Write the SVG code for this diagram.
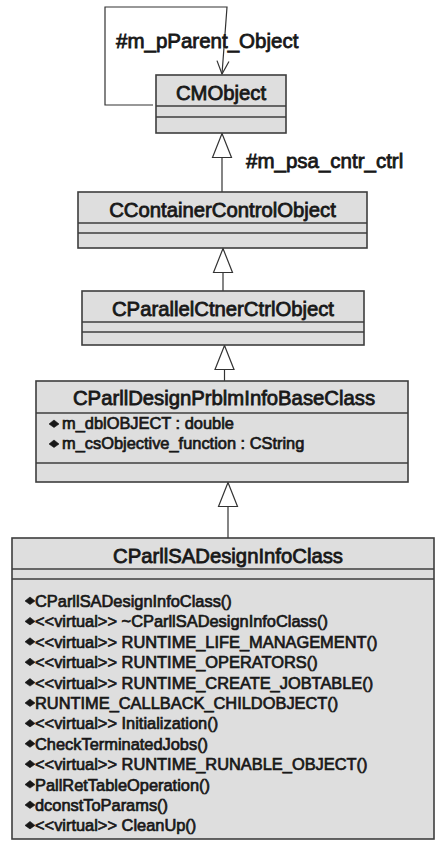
<svg xmlns="http://www.w3.org/2000/svg" width="447" height="843" viewBox="0 0 447 843">
  <style>
    .box { fill: #dedede; stroke: #3e3e3e; stroke-width: 1.6; }
    .div { stroke: #3e3e3e; stroke-width: 1.6; }
    .edge { fill: none; stroke: #333333; stroke-width: 1.2; }
    text { font-family: "Liberation Sans", Arial, sans-serif; fill: #181818; stroke: #181818; stroke-width: 0.8; }
    .title { font-size: 20.3px; text-anchor: middle; }
    .label { font-size: 20.5px; }
    .member { font-size: 16.4px; stroke-width: 0.7; }
    .icon { fill: #181818; stroke: #181818; stroke-width: 0.6; }
  </style>
  <defs>
    <!-- hollow generalization triangle -->
    <marker id="gen" markerUnits="userSpaceOnUse" markerWidth="26" markerHeight="22" viewBox="-1 -1 26 22" refX="24" refY="10" orient="auto">
      <path d="M0,0.5 L24,10 L0,19.5 Z" fill="#ffffff" stroke="#333333" stroke-width="1.2"/>
    </marker>
    <!-- open navigability arrowhead -->
    <marker id="nav" markerUnits="userSpaceOnUse" markerWidth="16" markerHeight="14" viewBox="-1 -1 16 14" refX="13" refY="6" orient="auto">
      <path d="M0,0 L13,6 L0,12" fill="none" stroke="#333333" stroke-width="1.2"/>
    </marker>
    <!-- operation / attribute visibility icon -->
    <path id="op" d="M-5,0 L0,-4 L5,0 L0,3.5 Z" class="icon"/>
  </defs>

  <!-- connectors -->
  <g id="connectors">
    <path class="edge" d="M153,105 L105,105 L105,7 L227,7 L222,74" marker-end="url(#nav)"/>
    <line class="edge" x1="222" y1="192" x2="222" y2="133.5" marker-end="url(#gen)"/>
    <line class="edge" x1="223" y1="291" x2="223" y2="248.5" marker-end="url(#gen)"/>
    <line class="edge" x1="224.5" y1="381" x2="224.5" y2="345.5" marker-end="url(#gen)"/>
    <line class="edge" x1="228" y1="538" x2="228" y2="482.5" marker-end="url(#gen)"/>
    <text class="label" x="116" y="48">#m_pParent_Object</text>
    <text class="label" x="246" y="168">#m_psa_cntr_ctrl</text>
  </g>

  <g id="CMObject">
    <rect class="box" x="156" y="75" width="130" height="58"/>
    <line class="div" x1="156" y1="106" x2="286" y2="106"/>
    <line class="div" x1="156" y1="117" x2="286" y2="117"/>
    <text class="title" x="221" y="100">CMObject</text>
  </g>

  <g id="CContainerControlObject">
    <rect class="box" x="78" y="192" width="289" height="56"/>
    <line class="div" x1="78" y1="223" x2="367" y2="223"/>
    <line class="div" x1="78" y1="233" x2="367" y2="233"/>
    <text class="title" x="222.5" y="217">CContainerControlObject</text>
  </g>

  <g id="CParallelCtnerCtrlObject">
    <rect class="box" x="82" y="291" width="282" height="54"/>
    <line class="div" x1="82" y1="322" x2="364" y2="322"/>
    <line class="div" x1="82" y1="332" x2="364" y2="332"/>
    <text class="title" x="223" y="316">CParallelCtnerCtrlObject</text>
  </g>

  <g id="CParllDesignPrblmInfoBaseClass">
    <rect class="box" x="36" y="381" width="372" height="101"/>
    <line class="div" x1="36" y1="413" x2="408" y2="413"/>
    <line class="div" x1="36" y1="463" x2="408" y2="463"/>
    <text class="title" x="224" y="405">CParllDesignPrblmInfoBaseClass</text>
    <use href="#op" x="54" y="424"/>
    <text class="member" x="62" y="429">m_dblOBJECT : double</text>
    <use href="#op" x="54" y="444"/>
    <text class="member" x="62" y="449">m_csObjective_function : CString</text>
  </g>

  <g id="CParllSADesignInfoClass">
    <rect class="box" x="12" y="538" width="422" height="301"/>
    <line class="div" x1="12" y1="569" x2="434" y2="569"/>
    <line class="div" x1="12" y1="579" x2="434" y2="579"/>
    <text class="title" x="228" y="563">CParllSADesignInfoClass</text>
    <use href="#op" x="30" y="601"/>
    <text class="member" x="35" y="607">CParllSADesignInfoClass()</text>
    <use href="#op" x="30" y="621.4"/>
    <text class="member" x="35" y="627.4">&lt;&lt;virtual&gt;&gt; ~CParllSADesignInfoClass()</text>
    <use href="#op" x="30" y="641.8"/>
    <text class="member" x="35" y="647.8">&lt;&lt;virtual&gt;&gt; RUNTIME_LIFE_MANAGEMENT()</text>
    <use href="#op" x="30" y="662.2"/>
    <text class="member" x="35" y="668.2">&lt;&lt;virtual&gt;&gt; RUNTIME_OPERATORS()</text>
    <use href="#op" x="30" y="682.6"/>
    <text class="member" x="35" y="688.6">&lt;&lt;virtual&gt;&gt; RUNTIME_CREATE_JOBTABLE()</text>
    <use href="#op" x="30" y="703"/>
    <text class="member" x="35" y="709">RUNTIME_CALLBACK_CHILDOBJECT()</text>
    <use href="#op" x="30" y="723.4"/>
    <text class="member" x="35" y="729.4">&lt;&lt;virtual&gt;&gt; Initialization()</text>
    <use href="#op" x="30" y="743.8"/>
    <text class="member" x="35" y="749.8">CheckTerminatedJobs()</text>
    <use href="#op" x="30" y="764.2"/>
    <text class="member" x="35" y="770.2">&lt;&lt;virtual&gt;&gt; RUNTIME_RUNABLE_OBJECT()</text>
    <use href="#op" x="30" y="784.6"/>
    <text class="member" x="35" y="790.6">PallRetTableOperation()</text>
    <use href="#op" x="30" y="805"/>
    <text class="member" x="35" y="811">dconstToParams()</text>
    <use href="#op" x="30" y="825.4"/>
    <text class="member" x="35" y="831.4">&lt;&lt;virtual&gt;&gt; CleanUp()</text>
  </g>
</svg>
